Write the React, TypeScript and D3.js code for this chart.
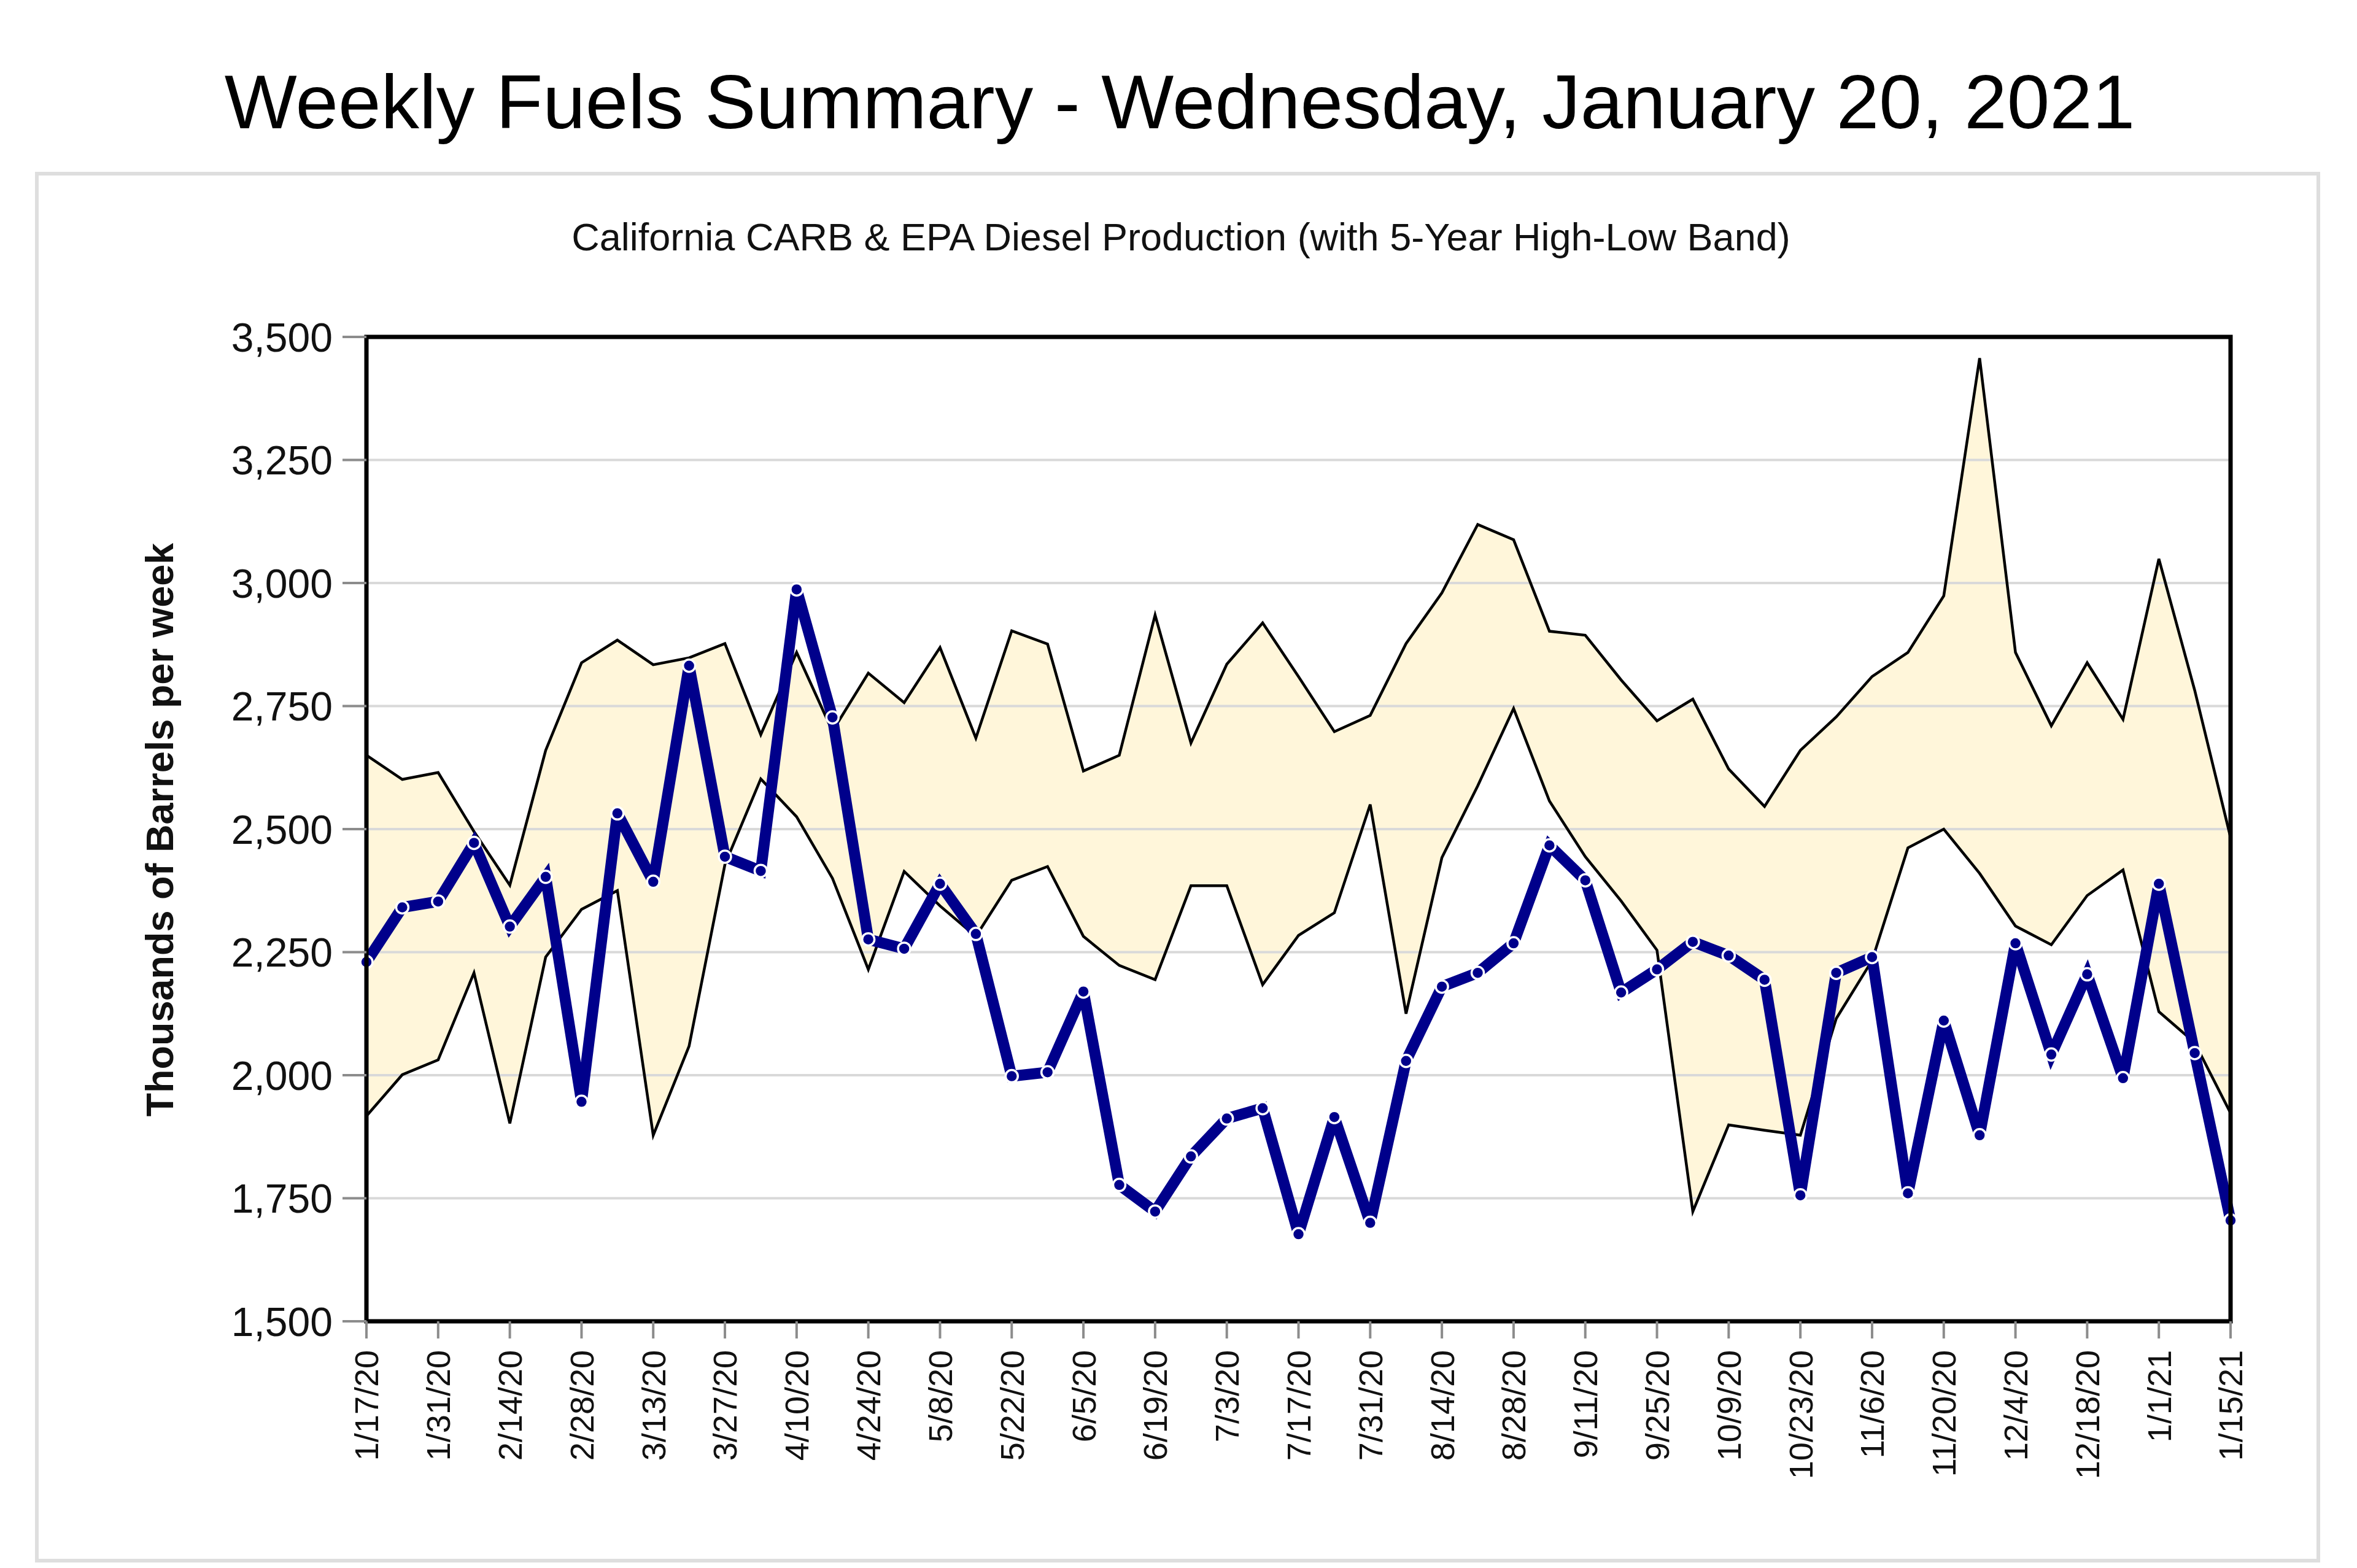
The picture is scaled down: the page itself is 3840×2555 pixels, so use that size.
import React from "react";
import * as d3 from "d3";

const weeks: string[] = [
  "1/17/20", "1/24/20", "1/31/20", "2/7/20", "2/14/20", "2/21/20", "2/28/20", "3/6/20", "3/13/20", "3/20/20",
  "3/27/20", "4/3/20", "4/10/20", "4/17/20", "4/24/20", "5/1/20", "5/8/20", "5/15/20", "5/22/20", "5/29/20",
  "6/5/20", "6/12/20", "6/19/20", "6/26/20", "7/3/20", "7/10/20", "7/17/20", "7/24/20", "7/31/20", "8/7/20",
  "8/14/20", "8/21/20", "8/28/20", "9/4/20", "9/11/20", "9/18/20", "9/25/20", "10/2/20", "10/9/20", "10/16/20",
  "10/23/20", "10/30/20", "11/6/20", "11/13/20", "11/20/20", "11/27/20", "12/4/20", "12/11/20", "12/18/20", "12/25/20",
  "1/1/21", "1/8/21", "1/15/21",
];

const tickLabels: string[] = [
  "1/17/20", "1/31/20", "2/14/20", "2/28/20", "3/13/20", "3/27/20", "4/10/20", "4/24/20", "5/8/20", "5/22/20",
  "6/5/20", "6/19/20", "7/3/20", "7/17/20", "7/31/20", "8/14/20", "8/28/20", "9/11/20", "9/25/20", "10/9/20",
  "10/23/20", "11/6/20", "11/20/20", "12/4/20", "12/18/20", "1/1/21", "1/15/21",
];

const production: number[] = [
  2230, 2341, 2353, 2472, 2302, 2403, 1946, 2532, 2393, 2832,
  2444, 2415, 2987, 2727, 2276, 2257, 2389, 2287, 1998, 2006,
  2170, 1777, 1723, 1835, 1912, 1933, 1677, 1915, 1700, 2029,
  2180, 2208, 2268, 2467, 2396, 2168, 2215, 2271, 2243, 2194,
  1756, 2208, 2240, 1760, 2111, 1878, 2268, 2042, 2205, 1994,
  2389, 2045, 1705,
];

const fiveYearHigh: number[] = [
  2650, 2601, 2615, 2495, 2386, 2660, 2838, 2884, 2834, 2848,
  2877, 2692, 2859, 2699, 2817, 2757, 2869, 2685, 2903, 2876,
  2618, 2650, 2935, 2675, 2835, 2919, 2810, 2698, 2731, 2877,
  2980, 3119, 3088, 2902, 2894, 2803, 2720, 2764, 2622, 2546,
  2660, 2728, 2810, 2859, 2974, 3457, 2859, 2710, 2838, 2723,
  3049, 2782, 2483,
];

const fiveYearLow: number[] = [
  1917, 2001, 2031, 2208, 1902, 2240, 2337, 2375, 1878, 2059,
  2428, 2602, 2525, 2400, 2215, 2414, 2344, 2282, 2396, 2424,
  2282, 2223, 2194, 2385, 2385, 2184, 2284, 2330, 2550, 2125,
  2442, 2588, 2745, 2557, 2444, 2354, 2254, 1723, 1899, 1888,
  1878, 2115, 2233, 2462, 2500, 2410, 2303, 2265, 2365, 2417,
  2129, 2066, 1923,
];

const yTicks: number[] = [1500, 1750, 2000, 2250, 2500, 2750, 3000, 3250, 3500];

const TITLE = "Weekly Fuels Summary - Wednesday, January 20, 2021";
const SUBTITLE = "California CARB & EPA Diesel Production (with 5-Year High-Low Band)";
const Y_TITLE = "Thousands of Barrels per week";

export default function App() {
  const W = 3840;
  const H = 2555;
  const left = 597;
  const right = 3634;
  const top = 549;
  const bottom = 2153;

  const x = d3.scalePoint<string>().domain(weeks).range([left, right]);
  const y = d3.scaleLinear().domain([1500, 3500]).range([bottom, top]);

  const idx = weeks.map((_, i) => i);
  const px = (i: number) => x(weeks[i]) as number;

  const band = d3
    .area<number>()
    .x((i) => px(i))
    .y0((i) => y(fiveYearLow[i]))
    .y1((i) => y(fiveYearHigh[i]))(idx) as string;
  const highLine = d3.line<number>().x((i) => px(i)).y((i) => y(fiveYearHigh[i]))(idx) as string;
  const lowLine = d3.line<number>().x((i) => px(i)).y((i) => y(fiveYearLow[i]))(idx) as string;
  const prodLine = d3.line<number>().x((i) => px(i)).y((i) => y(production[i]))(idx) as string;

  const fmt = d3.format(",");
  const font = "'Liberation Sans', Arial, sans-serif";

  return (
    <svg
      width={W}
      height={H}
      style={{ position: "absolute", left: 0, top: 0, background: "#ffffff" }}
      fontFamily={font}
    >
      <rect x={0} y={0} width={W} height={H} fill="#ffffff" />
      <text x={1922} y={209} textAnchor="middle" fontSize={125} fill="#000">
        {TITLE}
      </text>
      <rect x={60} y={283} width={3717} height={2260} fill="#ffffff" stroke="#dedede" strokeWidth={6} />
      <text x={1924} y={408} textAnchor="middle" fontSize={63} fill="#111">
        {SUBTITLE}
      </text>

      <rect x={left} y={top} width={right - left} height={bottom - top} fill="#ffffff" />

      <path d={band} fill="#FFF6DA" stroke="none" />

      {yTicks.map((t) => (
        <line key={"g" + t} x1={left} x2={right} y1={y(t)} y2={y(t)} stroke="#d9d9d9" strokeWidth={4} />
      ))}

      <path d={highLine} fill="none" stroke="#000" strokeWidth={4.5} strokeLinejoin="miter" />
      <path d={lowLine} fill="none" stroke="#000" strokeWidth={4.5} strokeLinejoin="miter" />

      <path d={prodLine} fill="none" stroke="#00008B" strokeWidth={18} strokeLinejoin="miter" strokeMiterlimit={3} />
      {idx.map((i) => (
        <circle key={"m" + i} cx={px(i)} cy={y(production[i])} r={10} fill="#00008B" stroke="#ffffff" strokeWidth={3.5} />
      ))}

      <rect x={left} y={top} width={right - left} height={bottom - top} fill="none" stroke="#000" strokeWidth={7} />

      {yTicks.map((t) => (
        <g key={"y" + t}>
          <line x1={558} x2={left} y1={y(t)} y2={y(t)} stroke="#8c8c8c" strokeWidth={4} />
          <text x={542} y={y(t)} dy="0.36em" textAnchor="end" fontSize={66} fill="#111">
            {fmt(t)}
          </text>
        </g>
      ))}

      {tickLabels.map((lab) => {
        const cx = x(lab) as number;
        return (
          <g key={"x" + lab}>
            <line x1={cx} x2={cx} y1={bottom} y2={2181} stroke="#8c8c8c" strokeWidth={4} />
            <text
              transform={`translate(${cx},2200) rotate(-90)`}
              dy="0.36em"
              textAnchor="end"
              fontSize={54}
              fill="#111"
            >
              {lab}
            </text>
          </g>
        );
      })}

      <text
        transform={`translate(282,1352) rotate(-90)`}
        textAnchor="middle"
        fontSize={63}
        fontWeight="bold"
        fill="#111"
      >
        {Y_TITLE}
      </text>
    </svg>
  );
}
